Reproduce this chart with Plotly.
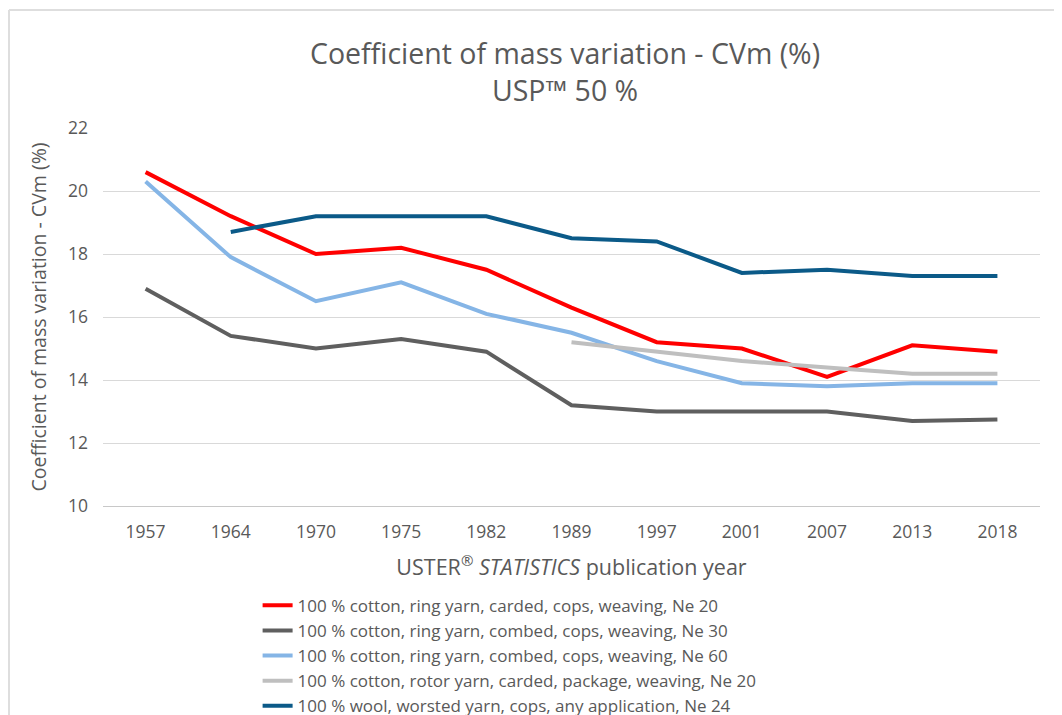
import plotly.graph_objects as go

years = ["1957", "1964", "1970", "1975", "1982", "1989", "1997", "2001", "2007", "2013", "2018"]

cotton_ring_carded_ne20 = [20.6, 19.2, 18.0, 18.2, 17.5, 16.3, 15.2, 15.0, 14.1, 15.1, 14.9]
cotton_ring_combed_ne30 = [16.9, 15.4, 15.0, 15.3, 14.9, 13.2, 13.0, 13.0, 13.0, 12.7, 12.75]
cotton_ring_combed_ne60 = [20.3, 17.9, 16.5, 17.1, 16.1, 15.5, 14.6, 13.9, 13.8, 13.9, 13.9]
cotton_rotor_carded_ne20 = [None, None, None, None, None, 15.2, 14.9, 14.6, 14.4, 14.2, 14.2]
wool_worsted_ne24 = [None, 18.7, 19.2, 19.2, 19.2, 18.5, 18.4, 17.4, 17.5, 17.3, 17.3]

series = [
    ("100 % cotton, ring yarn, carded, cops, weaving, Ne 20", cotton_ring_carded_ne20, "#FF0000"),
    ("100 % cotton, ring yarn, combed, cops, weaving, Ne 30", cotton_ring_combed_ne30, "#5F5F5F"),
    ("100 % cotton, ring yarn, combed, cops, weaving, Ne 60", cotton_ring_combed_ne60, "#85B5E6"),
    ("100 % cotton, rotor yarn, carded, package, weaving, Ne 20", cotton_rotor_carded_ne20, "#BFBFBF"),
    ("100 % wool, worsted yarn, cops, any application, Ne 24", wool_worsted_ne24, "#0B5A88"),
]

FONT = "Open Sans"
TXT = "#595959"

fig = go.Figure()
for name, vals, col in series:
    fig.add_trace(go.Scatter(x=years, y=vals, name=name, mode="lines",
                             line=dict(color=col, width=4), connectgaps=False))

fig.update_layout(
    width=1062, height=715,
    paper_bgcolor="white", plot_bgcolor="white",
    margin=dict(l=95, r=30, t=120, b=217, autoexpand=False),
    font=dict(family=FONT, color=TXT, size=17),
    title=dict(text="Coefficient of mass variation - CVm (%)<br>USP™ 50 %",
               x=0.5245, xanchor="center", yref="container", y=0.922, yanchor="middle",
               font=dict(size=28.5, color=TXT, family=FONT)),
    xaxis=dict(type="category", range=[-0.5, 10.5], showgrid=False, showline=True,
               linecolor="#C8C8C8", linewidth=1, ticks="",
               tickfont=dict(size=17.5, color=TXT), ticklabelstandoff=10,
               title=dict(text="USTER<sup>®</sup> <i>STATISTICS</i> publication year",
                          font=dict(size=21.5, color=TXT), standoff=17)),
    yaxis=dict(range=[10, 22], dtick=2, showgrid=True, gridcolor="#D9D9D9", gridwidth=1,
               zeroline=False, ticks="", tickfont=dict(size=17.5, color=TXT),
               ticklabelstandoff=14,
               title=dict(text="Coefficient of mass variation - CVm (%)",
                          font=dict(size=19.5, color=TXT), standoff=16)),
    showlegend=True,
    legend=dict(orientation="v", x=0.165, xanchor="left", y=-0.2164, yanchor="top",
                font=dict(size=17, color=TXT), tracegroupgap=0, itemwidth=30,
                bgcolor="rgba(0,0,0,0)"),
)

border = dict(color="#DEDEDE", width=2)
fig.add_shape(type="line", xref="paper", yref="paper", x0=-0.1003, x1=-0.1003,
              y0=-0.58, y1=1.312, line=border)
fig.add_shape(type="line", xref="paper", yref="paper", x0=-0.1003, x1=1.04,
              y0=1.312, y1=1.312, line=border)

fig.write_html("out.html")
